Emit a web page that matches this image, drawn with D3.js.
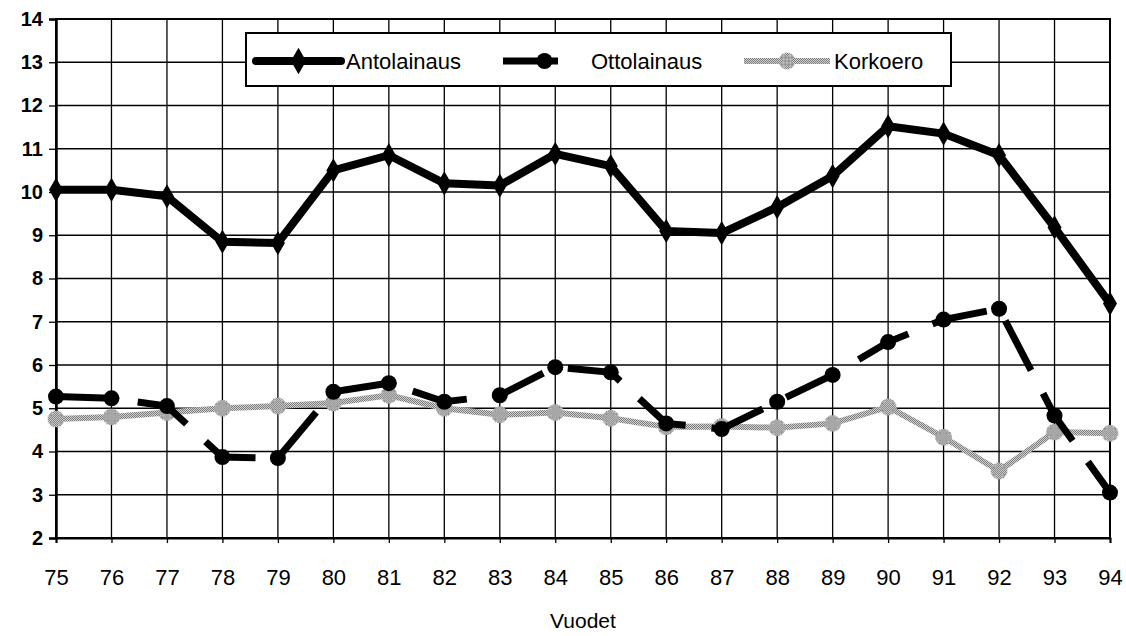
<!DOCTYPE html>
<html>
<head>
<meta charset="utf-8">
<script src="https://cdn.jsdelivr.net/npm/d3@7"></script>
<style>
  body { margin: 0; background: #fff; }
  text { font-family: "Liberation Sans", Arial, sans-serif; }
</style>
</head>
<body>
<svg class="chart"></svg>
<script>
var years = ["75","76","77","78","79","80","81","82","83","84","85","86","87","88","89","90","91","92","93","94"];
var antolainaus = [10.05,10.05,9.9,8.85,8.82,10.5,10.85,10.2,10.15,10.88,10.6,9.1,9.05,9.65,10.37,11.52,11.35,10.85,9.18,7.42];
var ottolainaus = [5.27,5.23,5.05,3.87,3.85,5.38,5.58,5.15,5.3,5.95,5.83,4.65,4.52,5.15,5.77,6.53,7.05,7.3,4.83,3.05];
var korkoero = [4.75,4.8,4.9,5.0,5.05,5.12,5.3,5.0,4.85,4.9,4.77,4.57,4.58,4.55,4.65,5.03,4.33,3.55,4.45,4.42];
var yTicks = d3.range(2, 15);
var seriesNames = ["Antolainaus", "Ottolainaus", "Korkoero"];

var width = 1126,
    height = 636;

var svg = d3.select(".chart")
    .attr("width", width)
    .attr("height", height);

// stippled grey like the scanned original
var defs = svg.append("defs");
var pat = defs.append("pattern")
    .attr("id", "stipple")
    .attr("patternUnits", "userSpaceOnUse")
    .attr("width", 2).attr("height", 2);
pat.append("rect").attr("width", 2).attr("height", 2).attr("fill", "#d4d4d4");
pat.append("rect").attr("width", 1).attr("height", 1).attr("fill", "#7a7a7a");
pat.append("rect").attr("x", 1).attr("y", 1).attr("width", 1).attr("height", 1).attr("fill", "#7a7a7a");

var x = d3.scalePoint().domain(years).range([56, 1110]),
    y = d3.scaleLinear().domain([2, 14]).range([538, 19]);

// grid
svg.append("g").selectAll("line.h")
    .data(yTicks)
  .enter().append("line")
    .attr("x1", x.range()[0]).attr("x2", x.range()[1])
    .attr("y1", function(d) { return y(d); })
    .attr("y2", function(d) { return y(d); })
    .attr("stroke", "#000").attr("stroke-width", 1.3);

svg.append("g").selectAll("line.v")
    .data(years)
  .enter().append("line")
    .attr("x1", function(d) { return x(d); })
    .attr("x2", function(d) { return x(d); })
    .attr("y1", y(14)).attr("y2", y(2))
    .attr("stroke", "#000").attr("stroke-width", 1.3);

// frame
svg.append("rect")
    .attr("x", x.range()[0]).attr("y", y(14))
    .attr("width", x.range()[1] - x.range()[0])
    .attr("height", y(2) - y(14))
    .attr("fill", "none").attr("stroke", "#000").attr("stroke-width", 2);

// axes
var yAxis = d3.axisLeft(y).tickValues(yTicks).tickSize(7).tickPadding(6).tickFormat(d3.format("d"));
var xAxis = d3.axisBottom(x).tickSize(5).tickPadding(26);

var gy = svg.append("g")
    .attr("transform", "translate(" + x.range()[0] + ",0)")
    .call(yAxis);
gy.select(".domain").attr("stroke-width", 2.5);
gy.selectAll(".tick line").attr("stroke-width", 1.3);
gy.selectAll("text")
    .style("font-size", "20px").style("font-weight", "bold")
    .attr("fill", "#000");

var gx = svg.append("g")
    .attr("transform", "translate(0," + y(2) + ")")
    .call(xAxis);
gx.select(".domain").attr("stroke-width", 2);
gx.selectAll(".tick line").attr("stroke-width", 1.3);
gx.selectAll("text")
    .style("font-size", "22px")
    .attr("fill", "#000");

svg.append("text")
    .attr("x", 583).attr("y", 628)
    .attr("text-anchor", "middle")
    .style("font-size", "21px")
    .text("Vuodet");

var line = d3.line()
    .x(function(d, i) { return x(years[i]); })
    .y(function(d) { return y(d); });

// Korkoero
svg.append("path")
    .datum(korkoero)
    .attr("d", line)
    .attr("fill", "none")
    .attr("stroke", "url(#stipple)")
    .attr("stroke-width", 6);

var star = d3.symbol().type(d3.symbolCross).size(150);
svg.append("g").selectAll("path")
    .data(korkoero)
  .enter().append("path")
    .attr("d", star)
    .attr("transform", function(d, i) { return "translate(" + x(years[i]) + "," + y(d) + ") rotate(45)"; })
    .attr("fill", "url(#stipple)");
svg.append("g").selectAll("path")
    .data(korkoero)
  .enter().append("path")
    .attr("d", star)
    .attr("transform", function(d, i) { return "translate(" + x(years[i]) + "," + y(d) + ")"; })
    .attr("fill", "url(#stipple)");

// Ottolainaus
svg.append("path")
    .datum(ottolainaus)
    .attr("d", line)
    .attr("fill", "none")
    .attr("stroke", "#000")
    .attr("stroke-width", 7)
    .attr("stroke-dasharray", "56,26");

svg.append("g").selectAll("circle")
    .data(ottolainaus)
  .enter().append("circle")
    .attr("cx", function(d, i) { return x(years[i]); })
    .attr("cy", function(d) { return y(d); })
    .attr("r", 8)
    .attr("fill", "#000");

// Antolainaus
svg.append("path")
    .datum(antolainaus)
    .attr("d", line)
    .attr("fill", "none")
    .attr("stroke", "#000")
    .attr("stroke-width", 8)
    .attr("stroke-linejoin", "round");

svg.append("g").selectAll("path")
    .data(antolainaus)
  .enter().append("path")
    .attr("d", d3.symbol().type(d3.symbolDiamond).size(170))
    .attr("transform", function(d, i) { return "translate(" + x(years[i]) + "," + y(d) + ")"; })
    .attr("fill", "#000");

// legend
var legend = svg.append("g");
legend.append("rect")
    .attr("x", 246).attr("y", 33)
    .attr("width", 705).attr("height", 53)
    .attr("fill", "#fff").attr("stroke", "#000").attr("stroke-width", 2);

var legendItems = [
  {name: seriesNames[0], x0: 256, x1: 341, tx: 346},
  {name: seriesNames[1], x0: 503, x1: 558, tx: 591},
  {name: seriesNames[2], x0: 744, x1: 830, tx: 834}
];
var ly = 61;

legendItems.forEach(function(it, i) {
  var mid = (it.x0 + it.x1) / 2;
  if (i === 0) {
    legend.append("line").attr("x1", it.x0).attr("x2", it.x1).attr("y1", ly).attr("y2", ly)
        .attr("stroke", "#000").attr("stroke-width", 8).attr("stroke-linecap", "round");
    legend.append("path").attr("d", d3.symbol().type(d3.symbolDiamond).size(200))
        .attr("transform", "translate(" + mid + "," + ly + ")");
  } else if (i === 1) {
    legend.append("line").attr("x1", it.x0).attr("x2", it.x1).attr("y1", ly).attr("y2", ly)
        .attr("stroke", "#000").attr("stroke-width", 7);
    legend.append("circle").attr("cx", mid + 14).attr("cy", ly).attr("r", 8).attr("fill", "#000");
  } else {
    legend.append("line").attr("x1", it.x0).attr("x2", it.x1).attr("y1", ly).attr("y2", ly)
        .attr("stroke", "url(#stipple)").attr("stroke-width", 6);
    legend.append("path").attr("d", star)
        .attr("transform", "translate(" + mid + "," + ly + ")")
        .attr("fill", "url(#stipple)");
    legend.append("path").attr("d", star)
        .attr("transform", "translate(" + mid + "," + ly + ") rotate(45)")
        .attr("fill", "url(#stipple)");
  }
  legend.append("text")
      .attr("x", it.tx).attr("y", ly + 8)
      .style("font-size", "22px")
      .text(it.name);
});
</script>
</body>
</html>
